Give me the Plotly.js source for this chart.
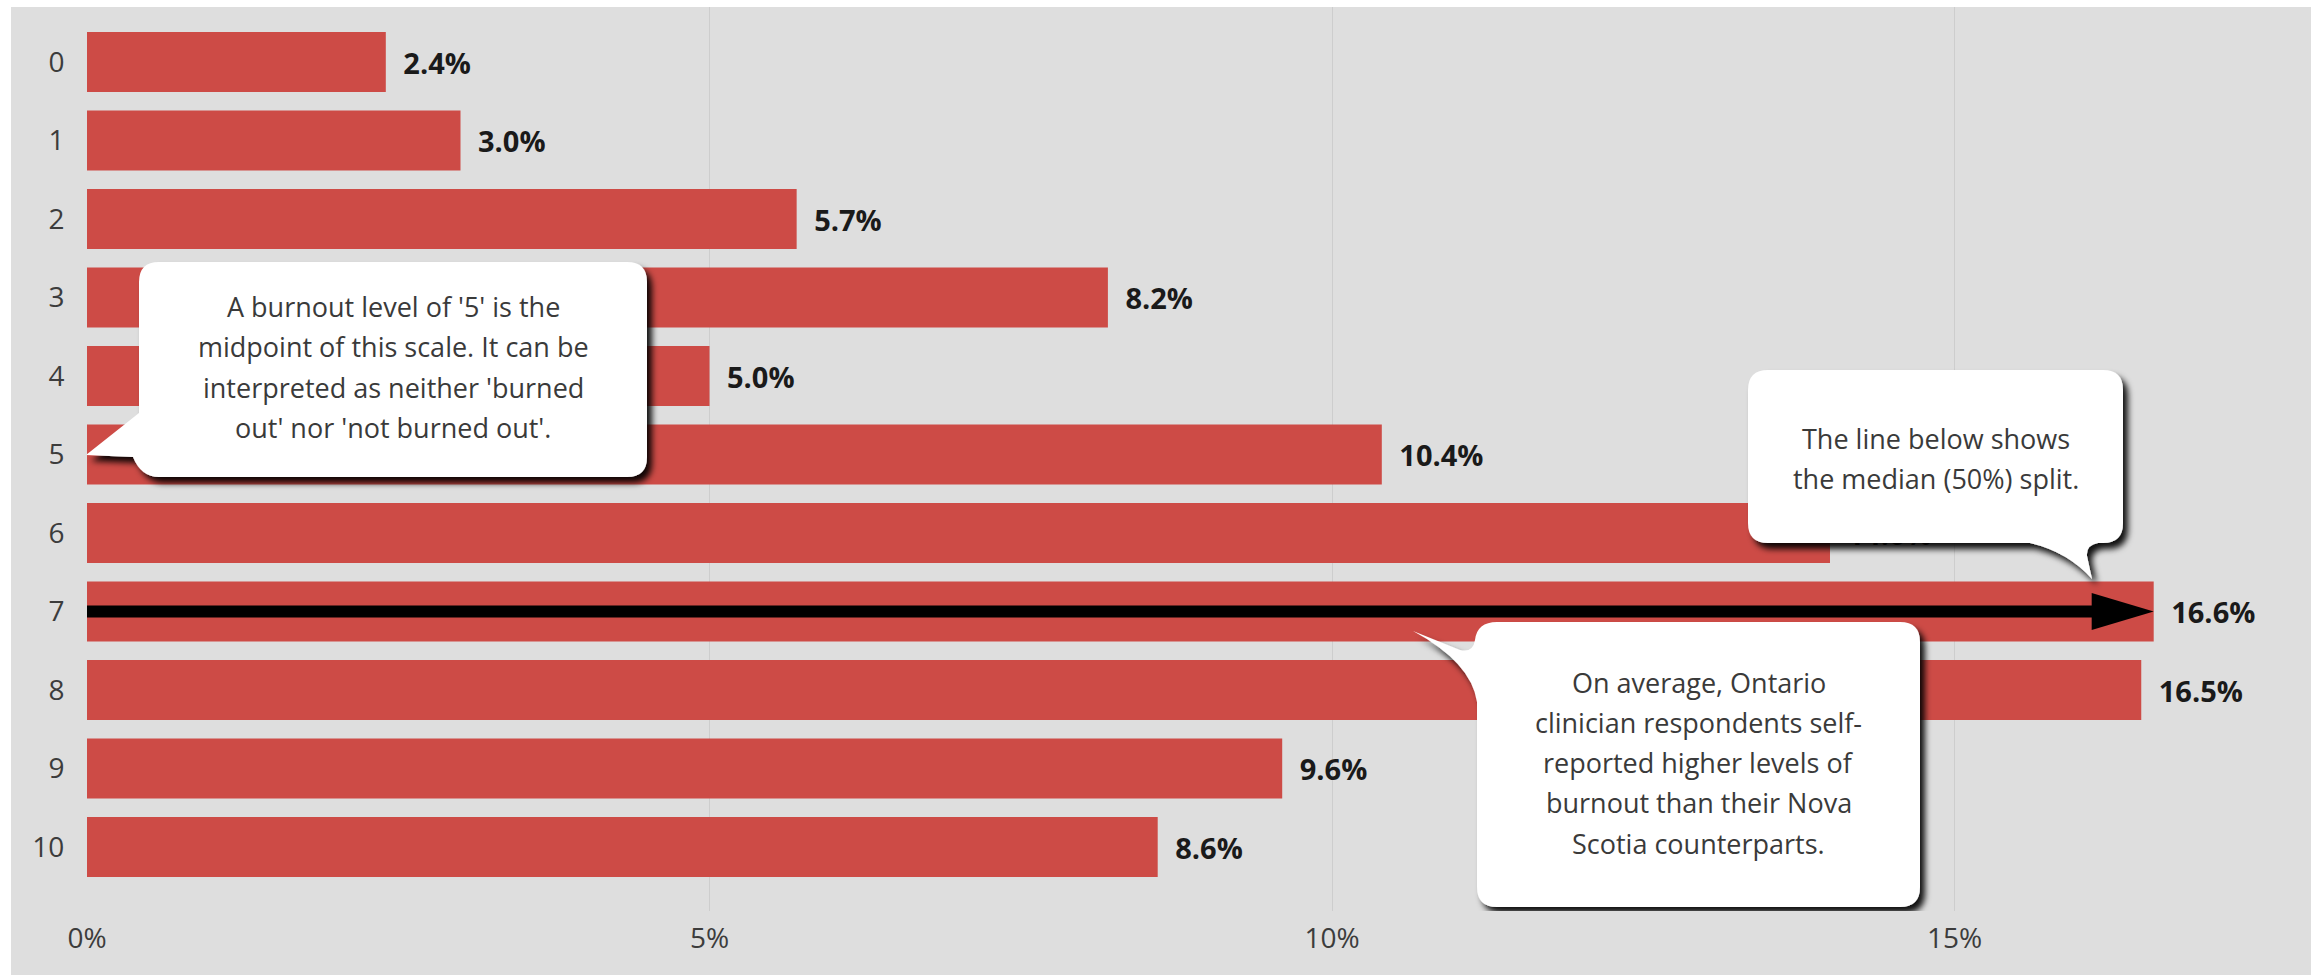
<!DOCTYPE html>
<html><head><meta charset="utf-8">
<script src="https://cdn.plot.ly/plotly-3.0.1.min.js"></script>
<style>
html,body{margin:0;padding:0;background:#ffffff;width:2318px;height:975px;overflow:hidden}
#chart{position:absolute;left:11px;top:7px;width:2300px;height:968px}
</style></head><body>
<div id="chart"></div>
<script>
// ---------- data ----------
const levels = [0, 1, 2, 3, 4, 5, 6, 7, 8, 9, 10];
const levelLabels = ['0', '1', '2', '3', '4', '5', '6', '7', '8', '9', '10'];
const shares = [2.4, 3.0, 5.7, 8.2, 5.0, 10.4, 14.0, 16.6, 16.5, 9.6, 8.6];
const xTickVals = [0, 5, 10, 15];
const xTickText = ['0%', '5%', '10%', '15%'];
const medianLevel = 7;
const calloutMidpoint = ["A burnout level of '5' is the", "midpoint of this scale. It can be", "interpreted as neither 'burned", "out' nor 'not burned out'."];
const calloutMedian = ["The line below shows", "the median (50%) split."];
const calloutAverage = ["On average, Ontario", "clinician respondents self-", "reported higher levels of", "burnout than their Nova", "Scotia counterparts."];

// ---------- geometry (page pixels -> axis units) ----------
const X0 = 87, PX_PER_PCT = 124.5, Y0 = 62, PX_PER_ROW = 78.5;
const fx = px => (px - X0) / PX_PER_PCT;
const fy = py => (py - Y0) / PX_PER_ROW;
const P = (px, py) => fx(px).toFixed(4) + ',' + fy(py).toFixed(4);

function roundedBubble(L, R, T, B, r, tail) {
  let d = 'M' + P(L + r, T);
  d += ' L' + P(R - r, T) + ' Q' + P(R, T) + ' ' + P(R, T + r);
  d += ' L' + P(R, B - r) + ' Q' + P(R, B) + ' ' + P(R - r, B);
  d += tail.bottom ? tail.bottom : '';
  d += ' L' + P(L + r, B);
  d += tail.left ? tail.left : (' Q' + P(L, B) + ' ' + P(L, B - r) + ' L' + P(L, T + r));
  d += tail.topLeft ? tail.topLeft : (' Q' + P(L, T) + ' ' + P(L + r, T));
  d += ' Z';
  return d;
}

// bubble 1 (left, points to level 5 at 0%)
const b1 = {L: 139, R: 647, T: 262, B: 477, r: 20};
const bubble1 = roundedBubble(b1.L, b1.R, b1.T, b1.B, b1.r, {
  left: ' Q' + P(b1.L + 2, b1.B) + ' ' + P(b1.L - 6, 457) + ' L' + P(86, 455) + ' L' + P(b1.L, 413) + ' L' + P(b1.L, b1.T + b1.r)
});
// bubble 2 (top right, tail down)
const b2 = {L: 1748, R: 2123, T: 370, B: 543, r: 20};
const bubble2 = roundedBubble(b2.L, b2.R, b2.T, b2.B, b2.r, {
  bottom: ' L' + P(2098, b2.B) + ' Q' + P(2086, b2.B + 2) + ' ' + P(2087, 556) + ' L' + P(2092, 579) + ' Q' + P(2068, 552) + ' ' + P(2030, b2.B)
});
// bubble 3 (bottom, tail up-left)
const b3 = {L: 1477, R: 1920, T: 622, B: 907, r: 20};
const bubble3 = roundedBubble(b3.L, b3.R, b3.T, b3.B, b3.r, {
  left: ' Q' + P(b3.L, b3.B) + ' ' + P(b3.L, b3.B - b3.r) + ' L' + P(b3.L, 702) + ' Q' + P(b3.L - 6, 662) + ' ' + P(1413, 631) + ' L' + P(1460, 650) + ' Q' + P(1473, 653) + ' ' + P(1475, 640),
  topLeft: ' Q' + P(1477, b3.T) + ' ' + P(b3.L + b3.r, b3.T)
});

const bubbleShapes = [bubble1, bubble2, bubble3].map(d => ({
  type: 'path', xref: 'x', yref: 'y', path: d, layer: 'above',
  fillcolor: '#ffffff', line: {width: 0}
}));

function lineAnnotations(lines, cx, yStart, step) {
  return lines.map((t, i) => ({
    xref: 'x', yref: 'y', x: fx(cx), y: fy(yStart + i * step), text: t,
    showarrow: false, xanchor: 'center', yanchor: 'middle',
    font: {family: 'Open Sans', size: 27, color: '#3a3a3a'}
  }));
}
const annotations = [].concat(
  lineAnnotations(calloutMidpoint, (b1.L + b1.R) / 2, 306, 40.5),
  lineAnnotations(calloutMedian, (b2.L + b2.R) / 2, 438, 40),
  lineAnnotations(calloutAverage, (b3.L + b3.R) / 2, 682, 40.3)
);

// ---------- traces ----------
const bars = {
  type: 'bar', orientation: 'h', x: shares, y: levels,
  width: 0.765,
  marker: {color: '#cd4b46', line: {width: 0}},
  text: shares.map(v => '\u2002' + v.toFixed(1) + '%'),
  textposition: 'outside', cliponaxis: false, constraintext: 'none',
  textfont: {family: 'Open Sans', size: 29, color: '#1a1a1a', weight: 700},
  hoverinfo: 'skip'
};
const tip = shares[levels.indexOf(medianLevel)];
const headLen = 62 / PX_PER_PCT, headHalf = 18.5 / PX_PER_ROW;
const medianLine = {
  type: 'scatter', mode: 'lines', x: [0, tip - headLen + 0.05], y: [medianLevel, medianLevel],
  line: {color: '#000000', width: 12}, hoverinfo: 'skip', showlegend: false
};
const medianHead = {
  type: 'scatter', mode: 'lines', fill: 'toself', fillcolor: '#000000',
  x: [tip - headLen, tip, tip - headLen, tip - headLen],
  y: [medianLevel - headHalf, medianLevel, medianLevel + headHalf, medianLevel - headHalf],
  line: {width: 0, color: '#000000'}, hoverinfo: 'skip', showlegend: false
};

const layout = {
  width: 2300, height: 968,
  margin: {l: 76, r: 11, t: 0, b: 64, pad: 0},
  paper_bgcolor: '#dedede', plot_bgcolor: '#dedede',
  showlegend: false,
  font: {family: 'Open Sans', color: '#404040'},
  xaxis: {
    range: [0, 2213 / PX_PER_PCT], tickvals: xTickVals, ticktext: xTickText,
    showgrid: true, gridcolor: '#cdcdcd', gridwidth: 1, zeroline: false,
    showline: false, ticks: 'outside', ticklen: 2, tickcolor: 'rgba(0,0,0,0)',
    tickfont: {family: 'Open Sans', size: 28, color: '#3c3c3c'}, fixedrange: true
  },
  yaxis: {
    range: [fy(911), fy(7)], tickvals: levels, ticktext: levelLabels,
    showgrid: false, zeroline: false, showline: false,
    ticks: 'outside', ticklen: 16, tickcolor: 'rgba(0,0,0,0)',
    tickfont: {family: 'Open Sans', size: 28, color: '#3c3c3c'}, fixedrange: true
  },
  shapes: bubbleShapes,
  annotations: annotations
};

const gd = document.getElementById('chart');
Plotly.newPlot(gd, [bars, medianLine, medianHead], layout, {staticPlot: true, displayModeBar: false}).then(() => {
  const ns = 'http://www.w3.org/2000/svg';
  const defs = gd.querySelector('defs');
  const f = document.createElementNS(ns, 'filter');
  f.setAttribute('id', 'bubbleShadow');
  f.setAttribute('x', '-10%'); f.setAttribute('y', '-10%');
  f.setAttribute('width', '130%'); f.setAttribute('height', '130%');
  const ds = document.createElementNS(ns, 'feDropShadow');
  ds.setAttribute('dx', '5'); ds.setAttribute('dy', '6');
  ds.setAttribute('stdDeviation', '3');
  ds.setAttribute('flood-color', '#000000'); ds.setAttribute('flood-opacity', '0.92');
  f.appendChild(ds); defs.appendChild(f);
  gd.querySelectorAll('.shapelayer path').forEach(p => p.setAttribute('filter', 'url(#bubbleShadow)'));
});
</script>
</body></html>
